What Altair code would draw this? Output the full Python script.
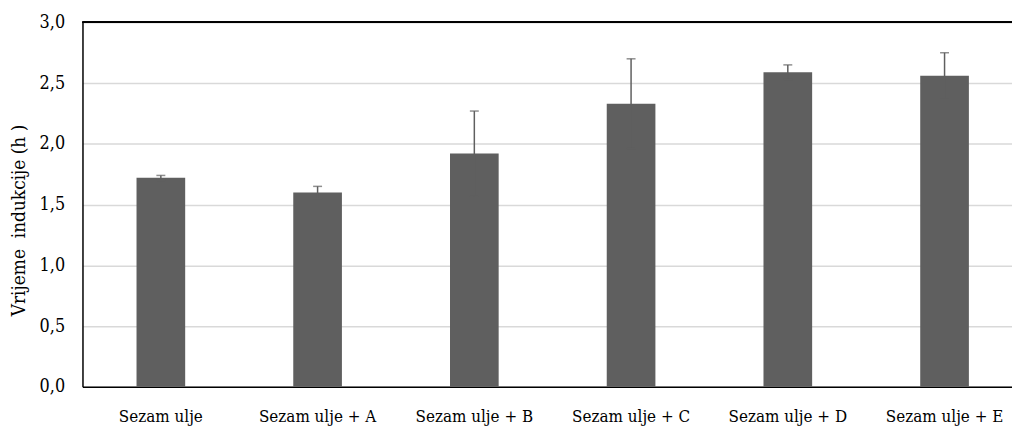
import altair as alt
import pandas as pd

categories = ["Sezam ulje", "Sezam ulje + A", "Sezam ulje + B", "Sezam ulje + C", "Sezam ulje + D", "Sezam ulje + E"]
means = [1.72, 1.60, 1.92, 2.33, 2.59, 2.56]
errors = [0.02, 0.05, 0.35, 0.37, 0.06, 0.19]

df = pd.DataFrame({"cat": categories, "mean": means, "err": errors})
df["lo"] = df["mean"] - df["err"]
df["hi"] = df["mean"] + df["err"]

FONT = "DejaVu Serif Condensed, DejaVu Serif"
BAR = "#5f5f5f"

xenc = alt.X("cat:N", sort=categories, title=None,
             axis=alt.Axis(labelAngle=0, ticks=False, domainColor="black", domainWidth=1.5,
                           labelFont=FONT, labelFontSize=17, labelColor="black", labelPadding=22,
                           labelLimit=200))
yscale = alt.Scale(domain=[0, 3.0], nice=False)

bars = alt.Chart(df).mark_bar(size=49, color=BAR).encode(
    x=xenc,
    y=alt.Y("mean:Q", scale=yscale, title="Vrijeme\u00a0\u00a0indukcije (h\u00a0)",
            axis=alt.Axis(values=[0, 0.5, 1.0, 1.5, 2.0, 2.5, 3.0], ticks=False,
                          domainColor="black", domainWidth=1.5,
                          gridColor="#d9d9d9", gridWidth=1.5,
                          labelExpr="replace(format(datum.value, '.1f'), '.', ',')",
                          labelFont=FONT, labelFontSize=18, labelColor="black", labelPadding=18,
                          titleFont=FONT, titleFontSize=19, titleFontWeight="normal", titleColor="black",
                          titlePadding=11, titleY=199))
)

rules = alt.Chart(df).mark_rule(color=BAR, strokeWidth=1.5).encode(
    x=alt.X("cat:N", sort=categories), y="lo:Q", y2="hi:Q")
cap_hi = alt.Chart(df).mark_tick(color=BAR, size=9, thickness=1.5, orient="horizontal").encode(
    x=alt.X("cat:N", sort=categories), y="hi:Q")
cap_lo = alt.Chart(df).mark_tick(color=BAR, size=9, thickness=1.5, orient="horizontal").encode(
    x=alt.X("cat:N", sort=categories), y="lo:Q")

top = alt.Chart(df).mark_rule(color="black", strokeWidth=1.5).encode(y=alt.datum(3.0))

chart = alt.layer(bars, rules, cap_hi, cap_lo, top).properties(
    width=947, height=367,
    autosize=alt.AutoSizeParams(type="none"),
    padding={"left": 75, "top": 13, "right": -11, "bottom": 40},
    background="white",
).configure_view(stroke=None)

chart.save("out.html", embed_options={"renderer": "svg", "actions": False})
